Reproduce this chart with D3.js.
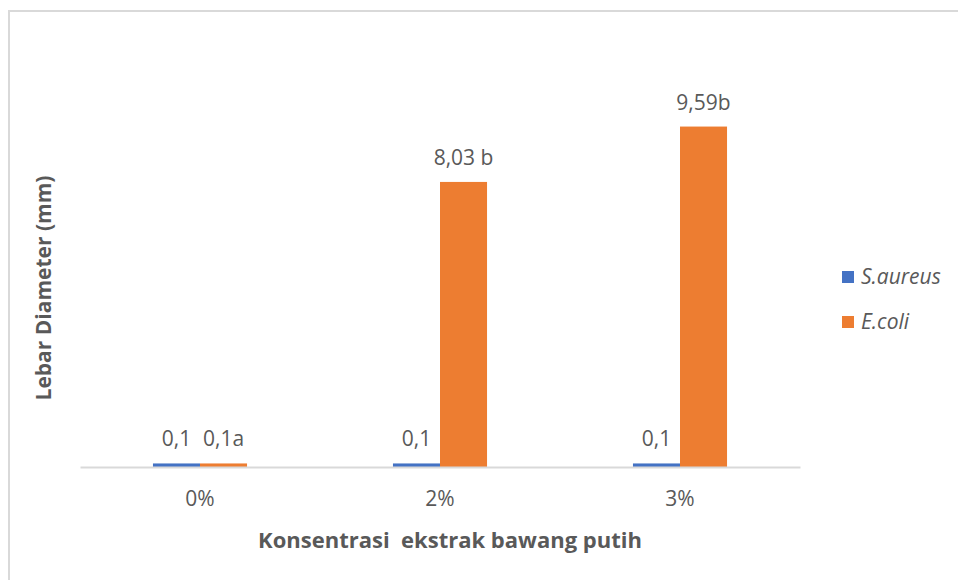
<!DOCTYPE html>
<html>
<head>
<meta charset="utf-8">
<script src="https://d3js.org/d3.v7.min.js"></script>
<style>
  body { margin: 0; background: #fff; }
  text { font-family: "Open Sans", Lato, sans-serif; fill: #595959; }
</style>
</head>
<body>
<div id="chart"></div>
<script>
var categories = ["0%", "2%", "3%"];
var seriesNames = ["S.aureus", "E.coli"];
var seriesColors = ["#4472C4", "#ED7D31"];
var saureus = [0.1, 0.1, 0.1];
var ecoli = [0.1, 8.03, 9.59];
var saureusLabels = ["0,1", "0,1", "0,1"];
var ecoliLabels = ["0,1a", "8,03 b", "9,59b"];

var W = 958, H = 580;
var svg = d3.select("#chart").append("svg")
    .attr("width", W)
    .attr("height", H);

// chart border (runs off the right/bottom of the picture)
svg.append("rect")
    .attr("x", 9).attr("y", 11)
    .attr("width", W).attr("height", H)
    .attr("fill", "none")
    .attr("stroke", "#d9d9d9")
    .attr("stroke-width", 2);

var x0 = d3.scaleBand()
    .domain(categories)
    .range([80, 800])
    .paddingInner(0.608)
    .paddingOuter(0.304);

var x1 = d3.scaleBand()
    .domain(seriesNames)
    .range([0, x0.bandwidth()]);

var y = d3.scaleLinear()
    .domain([0, 12])
    .range([467, 41]);

var rows = categories.map(function(c, i) {
  return [
    {cat: c, s: seriesNames[0], v: saureus[i], lab: saureusLabels[i], col: seriesColors[0]},
    {cat: c, s: seriesNames[1], v: ecoli[i], lab: ecoliLabels[i], col: seriesColors[1]}
  ];
});

var groups = svg.selectAll(".grp")
    .data(rows)
  .enter().append("g")
    .attr("class", "grp")
    .attr("transform", function(d) { return "translate(" + x0(d[0].cat) + ",0)"; });

groups.selectAll("rect")
    .data(function(d) { return d; })
  .enter().append("rect")
    .attr("x", function(d) { return x1(d.s); })
    .attr("width", x1.bandwidth())
    .attr("y", function(d) { return y(d.v); })
    .attr("height", function(d) { return y(0) - y(d.v); })
    .attr("fill", function(d) { return d.col; });

groups.selectAll(".lab")
    .data(function(d) { return d; })
  .enter().append("text")
    .attr("class", "lab")
    .attr("x", function(d) { return x1(d.s) + x1.bandwidth() / 2; })
    .attr("y", function(d) { return y(d.v) - 17; })
    .attr("text-anchor", "middle")
    .style("font-size", "21px")
    .text(function(d) { return d.lab; });

// x axis
var xAxis = svg.append("g")
    .attr("transform", "translate(0," + y(0) + ")")
    .call(d3.axisBottom(x0).tickSize(0).tickPadding(24));
xAxis.select(".domain").attr("stroke", "#d9d9d9").attr("stroke-width", 2);
xAxis.selectAll("text")
    .style("font-size", "21px")
    .style("font-family", "'Open Sans', sans-serif")
    .attr("fill", "#595959");

// axis titles
svg.append("text")
    .attr("x", 450).attr("y", 548)
    .attr("text-anchor", "middle")
    .attr("xml:space", "preserve")
    .style("white-space", "pre")
    .style("font-size", "22px")
    .style("font-weight", "bold")
    .text("Konsentrasi  ekstrak bawang putih");

svg.append("text")
    .attr("transform", "translate(51,288) rotate(-90)")
    .attr("text-anchor", "middle")
    .style("font-size", "21px")
    .style("font-weight", "bold")
    .text("Lebar Diameter (mm)");

// legend
var legend = svg.selectAll(".leg")
    .data(seriesNames)
  .enter().append("g")
    .attr("class", "leg")
    .attr("transform", function(d, i) { return "translate(842," + (271 + i * 45) + ")"; });
legend.append("rect")
    .attr("width", 12).attr("height", 12)
    .attr("fill", function(d, i) { return seriesColors[i]; });
legend.append("text")
    .attr("x", 19).attr("y", 13)
    .style("font-size", "21px")
    .style("font-style", "italic")
    .text(function(d) { return d; });
</script>
</body>
</html>
